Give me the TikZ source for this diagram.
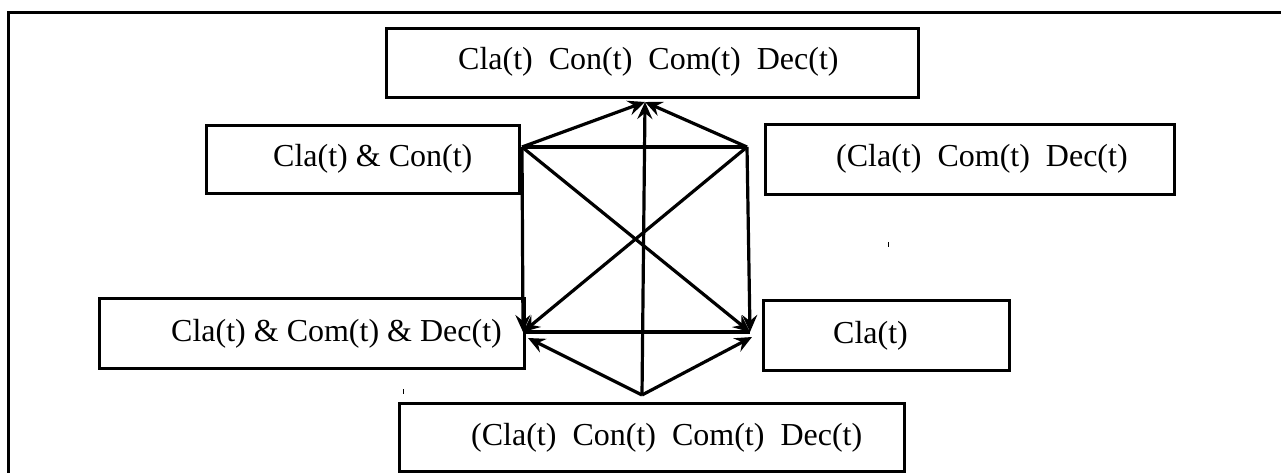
\documentclass[tikz,border=0pt]{standalone}
\usepackage{fontspec}
\setmainfont{Liberation Serif}
\usetikzlibrary{arrows.meta}
\begin{document}
\begin{tikzpicture}[x=1pt,y=-1pt,
  box/.style={draw, line width=3.4pt, inner sep=0pt, anchor=north west},
  lbl/.style={anchor=base west, inner sep=0pt, font=\fontsize{32}{38}\selectfont},
  edge/.style={line width=3.2pt},
  arr/.style={edge, -{Stealth[length=17pt,width=15pt,inset=6pt]}}]
  \clip (0,0) rectangle (1281,473);
  \fill[white] (0,0) rectangle (1281,473);

  % outer frame (continues past the right and bottom edges)
  \draw[line width=3pt] (8,520) -- (8,13) -- (1320,13);

  % boxes
  \node[box, minimum width=532pt, minimum height=69pt] (top) at (385,27) {};
  \node[box, minimum width=313pt, minimum height=68pt] (cc)  at (205,124) {};
  \node[box, minimum width=409pt, minimum height=70pt] (ccd) at (764,123) {};
  \node[box, minimum width=425pt, minimum height=70pt] (ccdl) at (98,297) {};
  \node[box, minimum width=246pt, minimum height=70pt] (cla) at (762,299) {};
  \node[box, minimum width=505pt, minimum height=68pt] (bot) at (398,402) {};

  % labels
  \node[lbl] (ttop)  at (458,70)  {Cla(t)\ \ Con(t)\ \ Com(t)\ \ Dec(t)};
  \node[lbl] (tcc)   at (273,167) {Cla(t) \& Con(t)};
  \node[lbl] (tccd)  at (836,167) {(Cla(t)\ \ Com(t)\ \ Dec(t)};
  \node[lbl] (tccdl) at (171,341) {Cla(t) \& Com(t) \& Dec(t)};
  \node[lbl] (tcla)  at (833,343) {Cla(t)};
  \node[lbl] (tbot)  at (471,445) {(Cla(t)\ \ Con(t)\ \ Com(t)\ \ Dec(t)};

  % graph points
  \coordinate (T)  at (645,102);
  \coordinate (TL) at (522,147);
  \coordinate (TR) at (747,147);
  \coordinate (BL) at (523,332);
  \coordinate (BR) at (750,332);
  \coordinate (A)  at (642,395);
  \coordinate (AL) at (528,338);
  \coordinate (AR) at (752,337);

  % plain edges
  \draw[edge] (TL) -- (TR);
  \draw[edge] (BL) -- (BR);

  % arrows
  \draw[arr] (TL) -- (T);
  \draw[arr] (TR) -- (T);
  \draw[arr] (A) -- (T);
  \draw[arr] (TL) -- (BL);
  \draw[arr] (TR) -- (BR);
  \draw[arr] (TL) -- (BR);
  \draw[arr] (TR) -- (BL);
  \draw[arr] (A) -- (AL);
  \draw[arr] (A) -- (AR);

  % small stray marks
  \coordinate (m1) at (888,242);
  \coordinate (m2) at (403,389);
  \draw[line width=1pt] (m1) -- ++(0,5);
  \draw[line width=1pt] (m2) -- ++(0,5);
\end{tikzpicture}
\end{document}
